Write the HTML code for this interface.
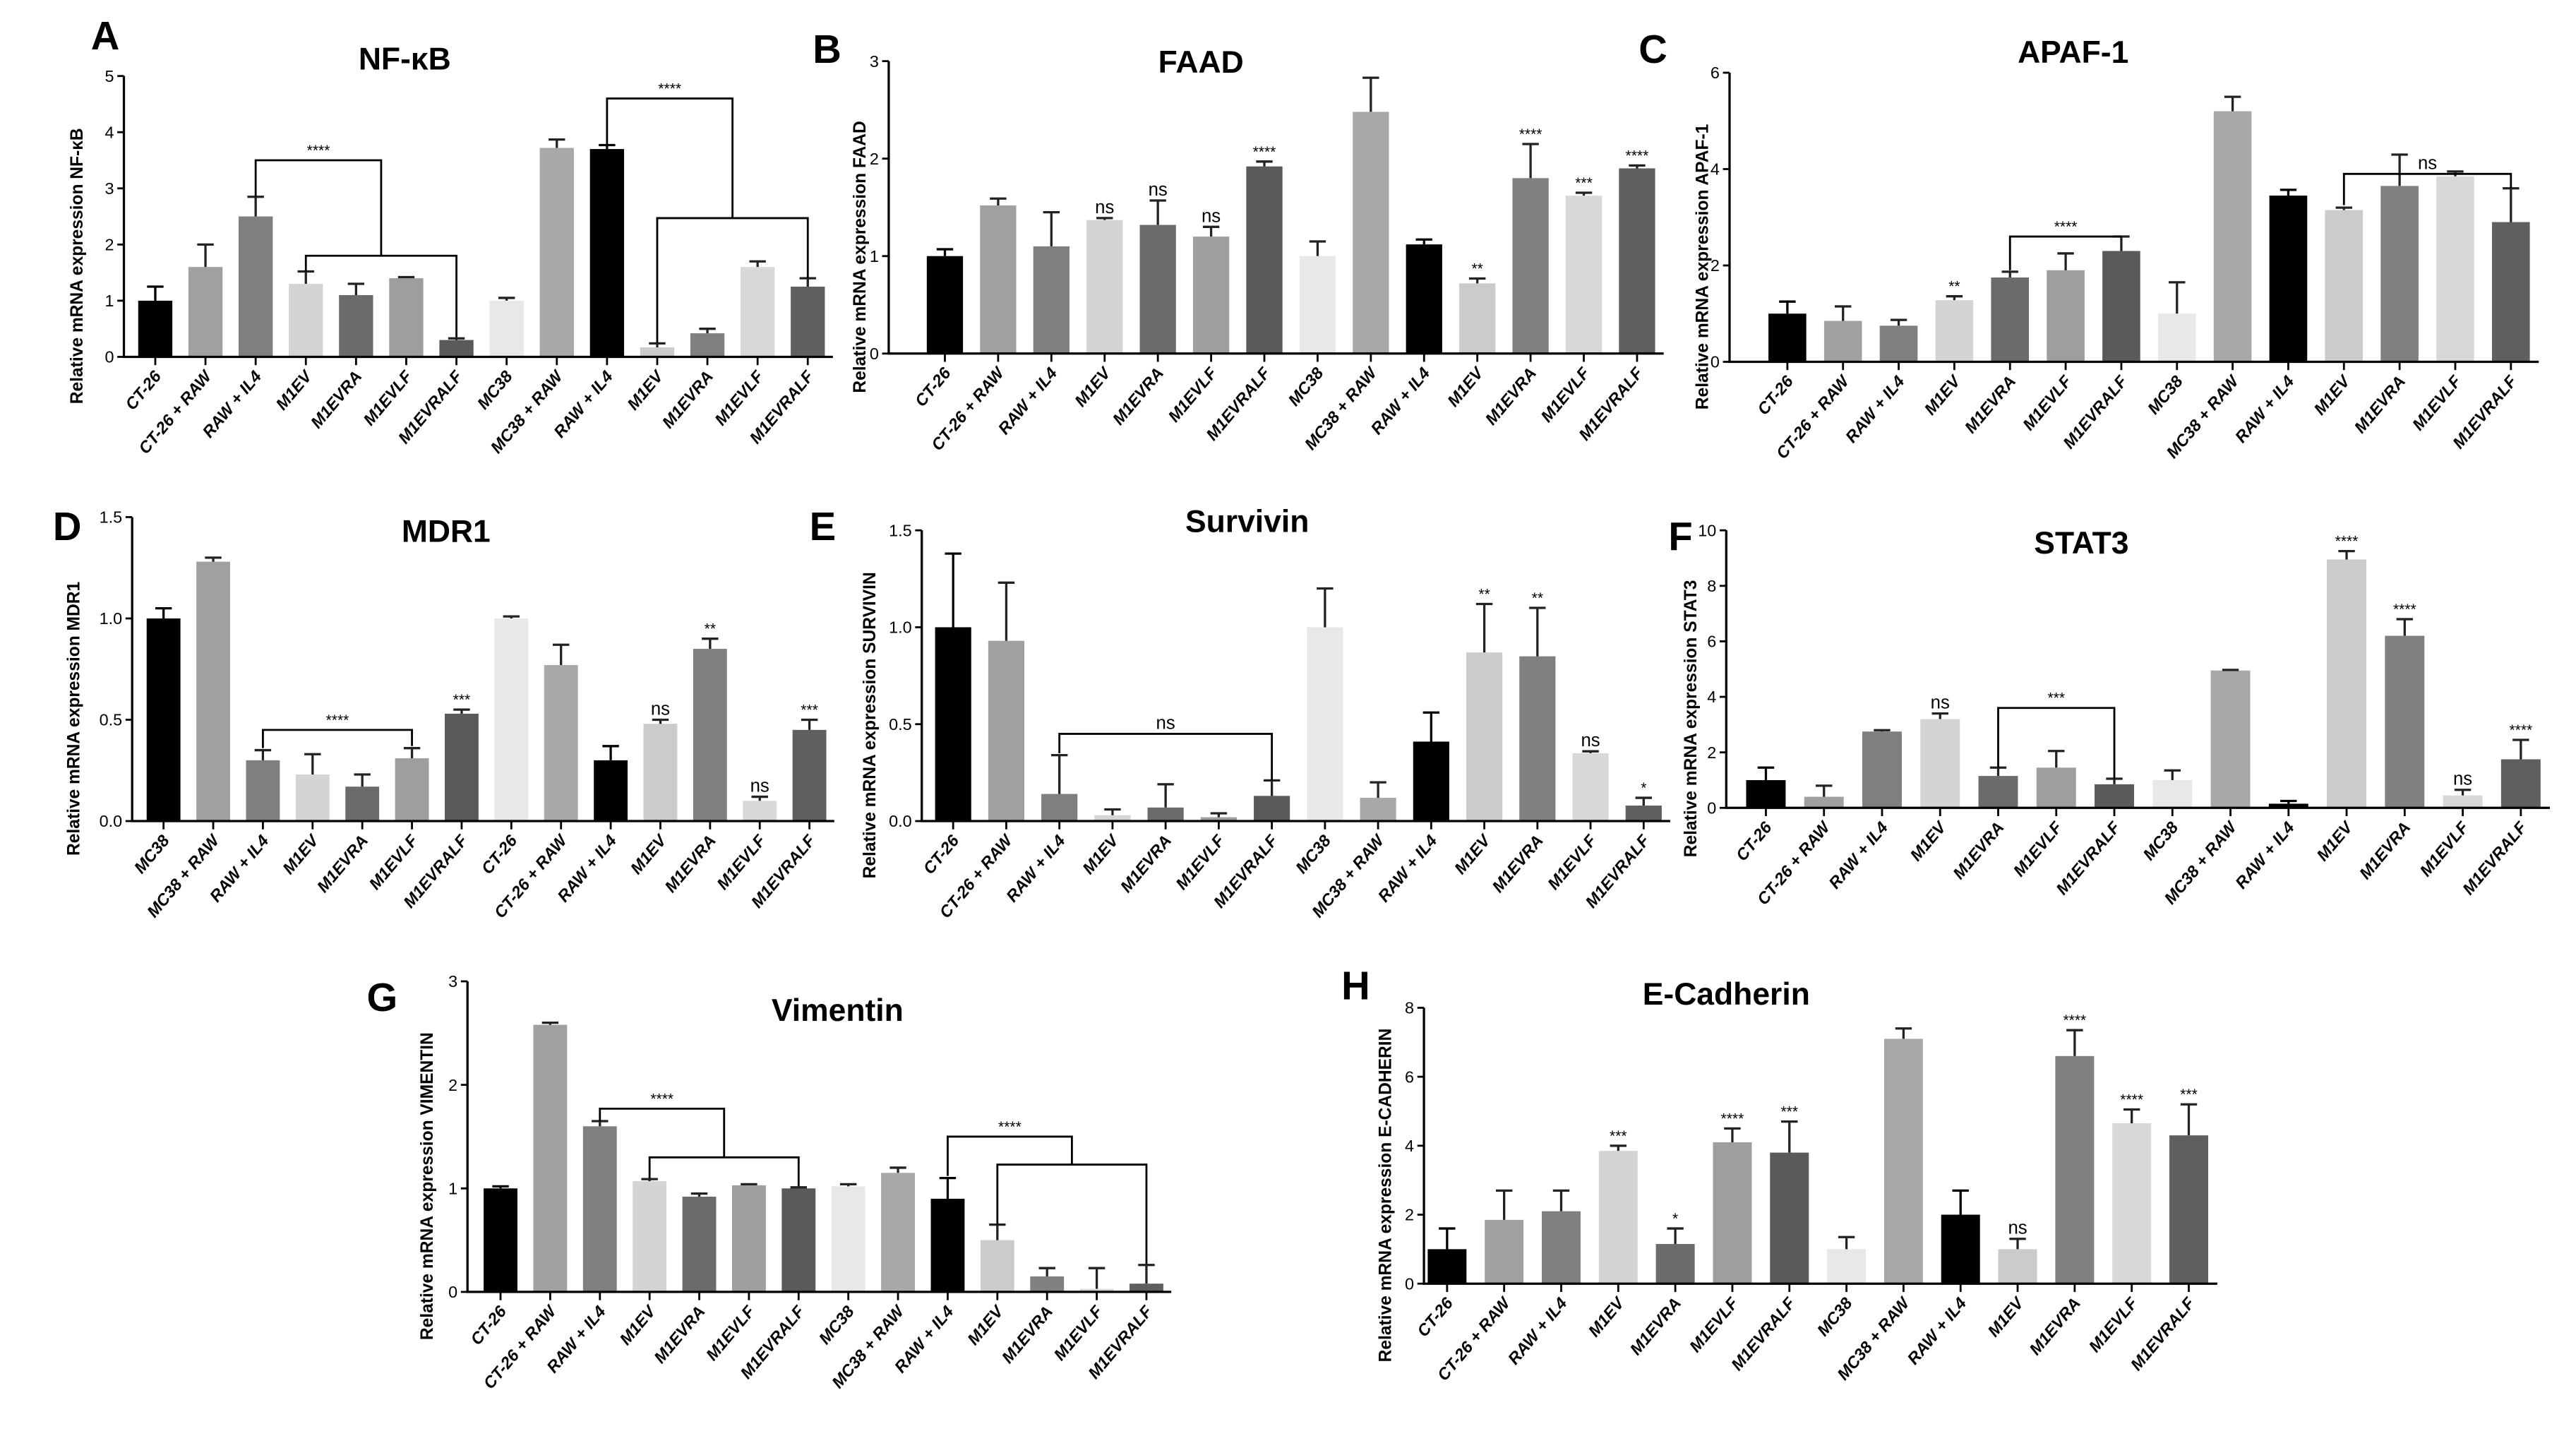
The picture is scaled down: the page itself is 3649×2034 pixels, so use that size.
<!DOCTYPE html>
<html><head><meta charset="utf-8"><style>
html,body{margin:0;padding:0;background:#fff;}
svg{display:block;font-family:"Liberation Sans",Arial,sans-serif;}
</style></head><body>
<svg id="fig" width="3649" height="2034" viewBox="0 0 1559.4 869.2" xmlns="http://www.w3.org/2000/svg"></svg>
<script>
const catsA = ['CT-26','CT-26 + RAW','RAW + IL4','M1EV','M1EVRA','M1EVLF','M1EVRALF','MC38','MC38 + RAW','RAW + IL4','M1EV','M1EVRA','M1EVLF','M1EVRALF'];
const catsD = ['MC38','MC38 + RAW','RAW + IL4','M1EV','M1EVRA','M1EVLF','M1EVRALF','CT-26','CT-26 + RAW','RAW + IL4','M1EV','M1EVRA','M1EVLF','M1EVRALF'];
const valsA = [1.0,1.6,2.5,1.3,1.1,1.4,0.3,1.0,3.72,3.7,0.17,0.42,1.6,1.25];
const errsA = [0.25,0.4,0.35,0.22,0.2,0.02,0.03,0.05,0.15,0.07,0.07,0.08,0.1,0.15];
const valsB = [1.0,1.52,1.1,1.37,1.32,1.2,1.92,1.0,2.48,1.12,0.72,1.8,1.62,1.9];
const errsB = [0.07,0.07,0.35,0.02,0.25,0.1,0.05,0.15,0.35,0.05,0.05,0.35,0.03,0.03];
const valsC = [1.0,0.85,0.75,1.28,1.75,1.9,2.3,1.0,5.2,3.45,3.15,3.65,3.85,2.9];
const errsC = [0.25,0.3,0.12,0.08,0.12,0.35,0.3,0.65,0.3,0.12,0.05,0.65,0.1,0.7];
const valsD = [1.0,1.28,0.3,0.23,0.17,0.31,0.53,1.0,0.77,0.3,0.48,0.85,0.1,0.45];
const errsD = [0.05,0.02,0.05,0.1,0.06,0.05,0.02,0.01,0.1,0.07,0.02,0.05,0.02,0.05];
const valsE = [1.0,0.93,0.14,0.03,0.07,0.02,0.13,1.0,0.12,0.41,0.87,0.85,0.35,0.08];
const errsE = [0.38,0.3,0.2,0.03,0.12,0.02,0.08,0.2,0.08,0.15,0.25,0.25,0.01,0.04];
const valsF = [1.0,0.4,2.75,3.2,1.15,1.45,0.85,1.0,4.95,0.15,8.95,6.2,0.45,1.75];
const errsF = [0.45,0.4,0.05,0.2,0.3,0.6,0.2,0.35,0.02,0.1,0.3,0.6,0.2,0.7];
const valsG = [1.0,2.58,1.6,1.07,0.92,1.03,1.0,1.02,1.15,0.9,0.5,0.15,0.03,0.08];
const errsG = [0.02,0.02,0.05,0.02,0.03,0.01,0.01,0.02,0.05,0.2,0.15,0.08,0.2,0.18];
const valsH = [1.0,1.85,2.1,3.85,1.15,4.1,3.8,1.0,7.1,2.0,1.0,6.6,4.65,4.3];
const errsH = [0.6,0.85,0.6,0.15,0.45,0.4,0.9,0.35,0.3,0.7,0.3,0.75,0.4,0.9];
const annB = ['','','','ns','ns','ns','****','','','','**','****','***','****'];
const annC = ['','','','**','','','','','','','','','',''];
const annD = ['','','','','','','***','','','','ns','**','ns','***'];
const annE = ['','','','','','','','','','','**','**','ns','*'];
const annF = ['','','','ns','','','','','','','****','****','ns','****'];
const annH = ['','','','***','*','****','***','','','','ns','****','****','***'];
const colors = ['#000','#a0a0a0','#7f7f7f','#d4d4d4','#6b6b6b','#9e9e9e','#5a5a5a','#e8e8e8','#a8a8a8','#000','#cbcbcb','#808080','#d8d8d8','#5f5f5f'];

const panels = [
 {id:'a',letter:'A',lx:55,ly:30,title:'NF-κB',tx:245,ty:42,ylab:'Relative mRNA expression NF-κB',ylx:50,ax:75,y0:216,yt:46,ymax:5,ticks:[0,1,2,3,4,5],tl:['0','1','2','3','4','5'],b0:94,b1:489,cats:catsA,vals:valsA,errs:errsA,ann:null,
  br:[{a:2,b:4.5,h:3.5,ha:2.85,hb:1.8,t:'****'},{a:3,b:6,h:1.8,ha:1.52,hb:0.35,t:''},{a:9,b:11.5,h:4.6,ha:3.77,hb:2.47,t:'****'},{a:10,b:13,h:2.47,ha:0.25,hb:1.4,t:''}]},
 {id:'b',letter:'B',lx:492,ly:38,title:'FAAD',tx:727,ty:44,ylab:'Relative mRNA expression FAAD',ylx:524,ax:538,y0:214,yt:37,ymax:3,ticks:[0,1,2,3],tl:['0','1','2','3'],b0:572,b1:991,cats:catsA,vals:valsB,errs:errsB,ann:annB,br:[]},
 {id:'c',letter:'C',lx:992,ly:38,title:'APAF-1',tx:1255,ty:38,ylab:'Relative mRNA expression APAF-1',ylx:1034,ax:1047,y0:219,yt:44,ymax:6,ticks:[0,2,4,6],tl:['0','2','4','6'],b0:1082,b1:1520,cats:catsA,vals:valsC,errs:errsC,ann:annC,
  br:[{a:4,b:6,h:2.6,ha:1.9,hb:2.6,t:'****'},{a:10,b:13,h:3.9,ha:3.25,hb:3.6,t:'ns'}]},
 {id:'d',letter:'D',lx:32,ly:327,title:'MDR1',tx:270,ty:328,ylab:'Relative mRNA expression MDR1',ylx:48,ax:80,y0:497,yt:313,ymax:1.5,ticks:[0,0.5,1,1.5],tl:['0.0','0.5','1.0','1.5'],b0:99,b1:490,cats:catsD,vals:valsD,errs:errsD,ann:annD,
  br:[{a:2,b:5,h:0.45,ha:0.36,hb:0.37,t:'****'}]},
 {id:'e',letter:'E',lx:490,ly:327,title:'Survivin',tx:755,ty:322,ylab:'Relative mRNA expression SURVIVIN',ylx:530,ax:558,y0:497,yt:321,ymax:1.5,ticks:[0,0.5,1,1.5],tl:['0.0','0.5','1.0','1.5'],b0:577,b1:995,cats:catsA,vals:valsE,errs:errsE,ann:annE,
  br:[{a:2,b:6,h:0.45,ha:0.35,hb:0.21,t:'ns'}]},
 {id:'f',letter:'F',lx:1010,ly:333,title:'STAT3',tx:1260,ty:335,ylab:'Relative mRNA expression STAT3',ylx:1027,ax:1045,y0:489,yt:321,ymax:10,ticks:[0,2,4,6,8,10],tl:['0','2','4','6','8','10'],b0:1069,b1:1526,cats:catsA,vals:valsF,errs:errsF,ann:annF,
  br:[{a:4,b:6,h:3.6,ha:1.45,hb:1.05,t:'***'}]},
 {id:'g',letter:'G',lx:222,ly:612,title:'Vimentin',tx:507,ty:618,ylab:'Relative mRNA expression VIMENTIN',ylx:262,ax:283,y0:782,yt:594,ymax:3,ticks:[0,1,2,3],tl:['0','1','2','3'],b0:303,b1:694,cats:catsA,vals:valsG,errs:errsG,ann:null,
  br:[{a:2,b:4.5,h:1.77,ha:1.65,hb:1.3,t:'****'},{a:3,b:6,h:1.3,ha:1.1,hb:1.02,t:''},{a:9,b:11.5,h:1.5,ha:1.12,hb:1.23,t:'****'},{a:10,b:13,h:1.23,ha:0.65,hb:0.27,t:''}]},
 {id:'h',letter:'H',lx:812,ly:605,title:'E-Cadherin',tx:1045,ty:608,ylab:'Relative mRNA expression E-CADHERIN',ylx:842,ax:862,y0:777,yt:610,ymax:8,ticks:[0,2,4,6,8],tl:['0','2','4','6','8'],b0:876,b1:1325,cats:catsA,vals:valsH,errs:errsH,ann:annH,br:[]}
];

const NS='http://www.w3.org/2000/svg';
const svg=document.getElementById('fig');
function mk(tag,attrs,parent){const e=document.createElementNS(NS,tag);for(const k in attrs)e.setAttribute(k,attrs[k]);(parent||svg).appendChild(e);return e;}

panels.forEach(p=>{
  const g=mk('g',{});
  
  
  const yS=v=>p.y0-(v/p.ymax)*(p.y0-p.yt);
  const n=p.cats.length, step=(p.b1-p.b0)/(n-1), bw=step*0.68;
  const xS=i=>p.b0+i*step;
  const L=mk('text',{x:p.lx,y:p.ly,'font-size':24,'font-weight':'bold'},g);L.textContent=p.letter;
  
  
  const T=mk('text',{x:p.tx,y:p.ty,'font-size':19,'font-weight':'bold','text-anchor':'middle'},g);T.textContent=p.title;
  
  
  const yc=(p.y0+p.yt)/2+30;
  const YL=mk('text',{x:p.ylx,y:yc,'font-size':10.5,'font-weight':'bold','text-anchor':'middle',transform:`rotate(-90 ${p.ylx} ${yc})`},g);YL.textContent=p.ylab;
  
  
  p.vals.forEach((v,i)=>{
    const x=xS(i), top=yS(v), et=yS(v+p.errs[i]);
    const r=mk('rect',{x:x-bw/2,y:top,width:bw,height:p.y0-top,fill:colors[i]},g);
    
    
    const e=mk('path',{d:`M${x} ${top}V${et}M${x-5} ${et}H${x+5}`,stroke:colors[i]==='#000'?'#000':'#222',fill:'none','stroke-width':1.4},g);
    
    
    if(p.ann&&p.ann[i]){
      const a=mk('text',{x:x,y:et-3,'font-size':p.ann[i]==='ns'?11:9,'text-anchor':'middle'},g);a.textContent=p.ann[i];
      
      
    }
    const tk=mk('line',{x1:x,x2:x,y1:p.y0,y2:p.y0+5,stroke:'#000','stroke-width':1.2},g);
    
    
    const ly=p.y0+12;
    const lb=mk('text',{x:x+4,y:ly,'font-size':10,'font-weight':'bold','font-style':'italic','text-anchor':'end',transform:`rotate(-50 ${x+4} ${ly})`},g);lb.textContent=p.cats[i];
    
    
  });
  const ax=mk('path',{d:`M${p.ax} ${p.yt}V${p.y0}H${p.b1+step*0.5}`,stroke:'#000',fill:'none','stroke-width':1.4},g);
  
  
  p.ticks.forEach((t,k)=>{
    const y=yS(t);
    const tl=mk('line',{x1:p.ax-4,x2:p.ax,y1:y,y2:y,stroke:'#000','stroke-width':1.2},g);
    
    
    const tt=mk('text',{x:p.ax-6,y:y+3.5,'font-size':10,'text-anchor':'end'},g);tt.textContent=p.tl[k];
    
    
  });
  p.br.forEach((b,k)=>{
    const xa=xS(b.a),xb=xS(b.b),yh=yS(b.h);
    const pa=mk('path',{d:`M${xa} ${yS(b.ha)}V${yh}H${xb}V${yS(b.hb)}`,stroke:'#000',fill:'none','stroke-width':1.2},g);
    
    
    if(b.t){
      const bt=mk('text',{x:(xa+xb)/2,y:yh-3,'font-size':b.t==='ns'?11:9,'text-anchor':'middle'},g);bt.textContent=b.t;
      
      
    }
  });
});
</script>
</body></html>
